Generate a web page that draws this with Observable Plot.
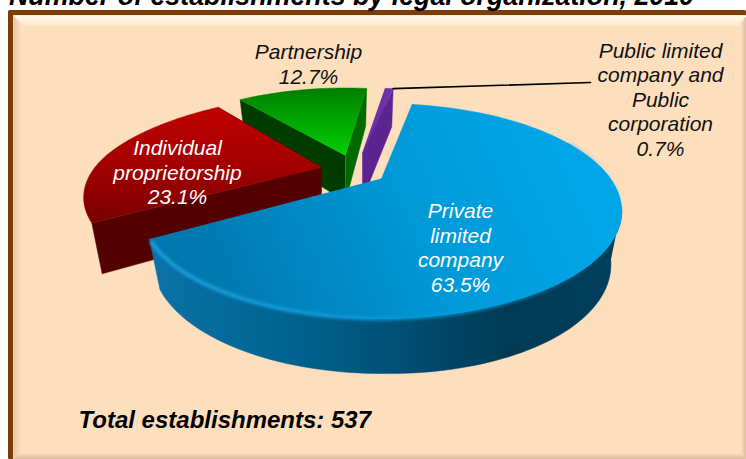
<!DOCTYPE html>
<html>
<head>
<meta charset="utf-8">
<script src="https://cdn.jsdelivr.net/npm/d3@7"></script>
<script src="https://cdn.jsdelivr.net/npm/@observablehq/plot@0.6"></script>
<style>html,body{margin:0;padding:0;background:#fff;overflow:hidden}svg{display:block}</style>
</head>
<body>
<div id="chart"></div>
<script>
// ---- data ----
const categories = ["Private limited company", "Individual proprietorship", "Partnership", "Public limited company and Public corporation"];
const shares = [63.5, 23.1, 12.7, 0.7];
const labelLines = [
  ["Private", "limited", "company"],
  ["Individual", "proprietorship"],
  ["Partnership"],
  ["Public limited", "company and", "Public", "corporation"]
];
const chartTitle = "Number of establishments by legal organization, 2010";
const totalNote = "Total establishments: 537";

// ---- layout of the exploded 3-D pie (style, not data) ----
const W = 746, H = 459;
const pieApex = {x: 381, y: 178};
const radius = {x: 229, y: 97.7};
const perspective = 0.3023;
const startAngle = 10 * Math.PI / 180;
const explode = [
  {dx: 0,   dy: 0,   sx: 1,    sy: 1,     px: 0,  py: 0},
  {dx: -60, dy: -11, sx: 0.99, sy: 0.92,  px: 25, py: -8},
  {dx: -36, dy: -23, sx: 0.92, sy: 0.9,   px: 0,  py: 0},
  {dx: -19, dy: -25, sx: 1,    sy: 0.875, px: 0,  py: 0}
];
const labelPos = [[460, 246.5], [177, 171.5], [308, 63], [660, 98.5]];
const sliceStyle = [
  {top: "url(#blueTop)", rim: "url(#blueSide)", a: "#00405e", b: "#00405e"},
  {top: "url(#redTop)", rim: "#560000", a: "#520000", b: "#520000"},
  {top: "url(#greenTop)", rim: "#006a00", a: "#003c00", b: "#006a00"},
  {top: "#7030a8", rim: "#5a2590", a: "#5a2590", b: "#5a2590"}
];
const labelColor = ["#ffffff", "#ffffff", "#111111", "#111111"];

// ---- geometry derived from the shares ----
const arcs = d3.pie().sort(null).value(d => d).startAngle(startAngle).endAngle(startAngle + 2 * Math.PI)(shares);
function topPoint(i, t, xScale = 1, drop = 0) {
  const e = explode[i], u = Math.sin(t), v = -Math.cos(t), w = 1 - perspective * v;
  const back = v < 0 ? (v / w) ** 2 : 0;
  return {
    x: pieApex.x + e.dx + xScale * radius.x * e.sx * u / w + e.px * back,
    y: pieApex.y + e.dy + radius.y * e.sy * v / w + e.py * back + drop
  };
}
function depth(t) {
  const u = Math.sin(t), v = -Math.cos(t);
  return 46 + 9 * v + 5 * Math.max(0, u);
}
const bottomPoint = (i, t) => topPoint(i, t, 0.955, depth(t));
const apexTop = i => ({x: pieApex.x + explode[i].dx, y: pieApex.y + explode[i].dy});
const apexBottom = i => ({x: pieApex.x + explode[i].dx, y: pieApex.y + explode[i].dy + 46});
const sweep = (a, b) => {
  const n = Math.max(2, Math.ceil((b - a) / (Math.PI / 120)));
  return d3.range(n + 1).map(k => a + (b - a) * k / n);
};
// the outer wall faces the viewer only on the near part of the rim
const nearRim = ts => ts.filter(t => -Math.cos(t) >= 0.25);

function sliceMarks(i) {
  const {startAngle: a, endAngle: b} = arcs[i], st = sliceStyle[i];
  const ts = sweep(a, b);
  const fillLine = (pts, fill) => Plot.line(pts, {x: "x", y: "y", fill, stroke: fill, strokeWidth: 0.5});
  const near = nearRim(ts);
  const rim = [...near.map(t => topPoint(i, t)), ...near.slice().reverse().map(t => bottomPoint(i, t))];
  const faceA = [apexTop(i), topPoint(i, a), bottomPoint(i, a), apexBottom(i)];
  const faceB = [apexTop(i), topPoint(i, b), bottomPoint(i, b), apexBottom(i)];
  const top = [apexTop(i), ...ts.map(t => topPoint(i, t))];
  return [
    ...(i === 0 ? [fillLine(rim, st.rim)] : [fillLine(faceB, st.b), fillLine(faceA, st.a)]),
    fillLine(top, st.top)
  ];
}

// ---- gradients ----
function defs() {
  const NS = "http://www.w3.org/2000/svg";
  const d = document.createElementNS(NS, "defs");
  const lg = (id, x1, y1, x2, y2, stops) =>
    `<linearGradient id="${id}" gradientUnits="userSpaceOnUse" x1="${x1}" y1="${y1}" x2="${x2}" y2="${y2}">` +
    stops.map(([o, c, op]) => `<stop offset="${o}" stop-color="${c}"${op != null ? ` stop-opacity="${op}"` : ""}/>`).join("") + `</linearGradient>`;
  d.innerHTML =
    lg("blueTop", 560, 140, 210, 290, [[0, "#00a6e8"], [0.45, "#0098d6"], [1, "#0078ae"]]) +
    lg("blueSide", 155, 0, 625, 0, [[0, "#0a72a8"], [0.3, "#00628f"], [0.52, "#004f74"], [0.75, "#003a55"], [1, "#00405e"]]) +
    lg("blueGlow", 155, 0, 625, 0, [[0, "#1a9ddb"], [0.4, "#0e96d6"], [0.7, "#00a0e0", 0.6], [1, "#00a0e0", 0]]) +
    lg("redTop", 0, 106, 0, 235, [[0, "#c00000"], [0.5, "#a00000"], [1, "#700000"]]) +
    lg("greenTop", 0, 88, 0, 158, [[0, "#007f00"], [1, "#00d400"]]) +
    lg("bevelTop", 0, 15, 0, 26, [[0, "#fffbee"], [1, "#ffe9cc"]]) +
    lg("bevelLeft", 13, 0, 21, 0, [[0, "#e6c5a6"], [1, "#fddfbd"]]) +
    lg("bevelBottom", 0, 452, 0, 459, [[0, "#fddfbd"], [1, "#d8b79a"]]) +
    lg("bevelRight", 740, 0, 746, 0, [[0, "#fddfbd"], [1, "#dcbb9e"]]);
  return d;
}

// ---- frame ----
const poly = (pts, fill) => Plot.line(pts.map(([x, y]) => ({x, y})), {x: "x", y: "y", fill, stroke: "none"});
const frameMarks = [
  Plot.rect([{x1: 8, x2: W, y1: 10, y2: H}], {x1: "x1", x2: "x2", y1: "y1", y2: "y2", fill: "#7c3e06", r: 1.5}),
  Plot.rect([{x1: 13, x2: W, y1: 15, y2: H}], {x1: "x1", x2: "x2", y1: "y1", y2: "y2", fill: "#fddfbd"}),
  poly([[13, 15], [23, 25], [23, 449], [13, H]], "url(#bevelLeft)"),
  poly([[W, 15], [W - 6, 25], [W - 6, 453], [W, H]], "url(#bevelRight)"),
  poly([[13, H], [19, 453], [W - 6, 453], [W, H]], "url(#bevelBottom)"),
  poly([[13, 15], [W, 15], [W - 8, 25], [23, 25]], "url(#bevelTop)")
];

const rimGlow = sweep(arcs[0].startAngle + 1.0, arcs[0].endAngle - 0.03).map(t => topPoint(0, t));
const labels = categories.map((c, i) => ({
  text: [...labelLines[i], shares[i].toFixed(1) + "%"].join("\n"),
  x: labelPos[i][0], y: labelPos[i][1], color: labelColor[i]
}));
const leader = [topPoint(3, arcs[3].endAngle), {x: 590, y: 82}];

const font = "Liberation Sans, Arial, sans-serif";
const plot = Plot.plot({
  width: W, height: H,
  margin: 0,
  x: {domain: [0, W], range: [0, W], axis: null},
  y: {domain: [0, H], range: [0, H], axis: null},
  style: {background: "#ffffff", fontFamily: font},
  marks: [
    defs,
    ...frameMarks,
    ...[2, 3, 1, 0].flatMap(sliceMarks),
    Plot.line(rimGlow, {x: "x", y: "y", stroke: "url(#blueGlow)", strokeWidth: 4, imageFilter: "blur(1.5px)"}),
    Plot.line(leader, {x: "x", y: "y", stroke: "#000", strokeWidth: 1.7}),
    Plot.text(labels, {x: "x", y: "y", text: "text", fill: "color", fontSize: 21, lineHeight: 1.17, fontStyle: "italic", lineAnchor: "middle", textAnchor: "middle"}),
    Plot.text([chartTitle], {x: 351, y: -4, text: d => d, fill: "#000", fontSize: 26.8, fontWeight: "bold", fontStyle: "italic", textAnchor: "middle", lineAnchor: "middle"}),
    Plot.text([totalNote], {x: 78, y: 420, text: d => d, fill: "#000", fontSize: 24, fontWeight: "bold", fontStyle: "italic", textAnchor: "start", lineAnchor: "middle"})
  ]
});
document.getElementById("chart").append(plot);
</script>
</body>
</html>
